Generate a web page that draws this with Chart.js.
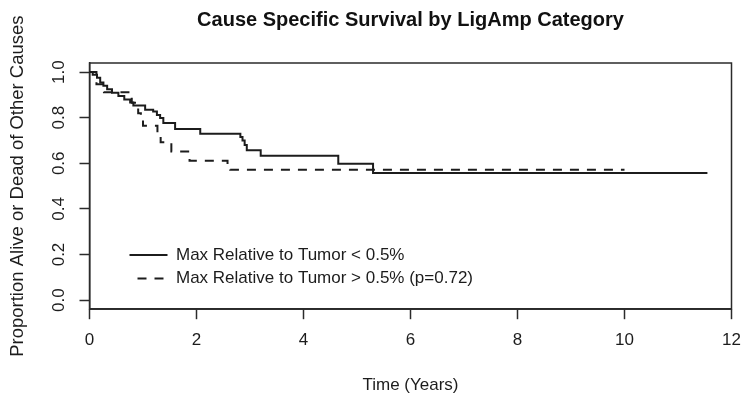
<!DOCTYPE html>
<html>
<head>
<meta charset="utf-8">
<title>Cause Specific Survival by LigAmp Category</title>
<script src="https://cdn.jsdelivr.net/npm/chart.js@4.4.0/dist/chart.umd.min.js"></script>
<style>
  html, body { margin: 0; padding: 0; background: #fff; }
</style>
</head>
<body>
<canvas id="km" width="742" height="406"></canvas>
<script>
// Kaplan-Meier steps (time in years, survival proportion)
const lowTimes = [0, 0.06, 0.14, 0.2, 0.26, 0.33, 0.42, 0.54, 0.65, 0.76, 0.82, 1.04, 1.19, 1.26, 1.32, 1.38, 1.6, 2.07, 2.82, 2.86, 2.9, 2.94, 3.2, 4.65, 5.3, 11.55];
const lowSurv  = [1.0, 0.988, 0.975, 0.955, 0.94, 0.925, 0.91, 0.895, 0.88, 0.867, 0.854, 0.835, 0.827, 0.812, 0.799, 0.777, 0.75, 0.73, 0.715, 0.70, 0.68, 0.657, 0.633, 0.598, 0.557, 0.557];

const highTimes = [0, 0.13, 0.27, 0.79, 0.85, 0.91, 0.96, 1.0, 1.27, 1.33, 1.53, 1.87, 2.58, 2.63, 10.0];
const highSurv  = [1.0, 0.947, 0.912, 0.866, 0.844, 0.82, 0.80, 0.765, 0.73, 0.692, 0.652, 0.611, 0.59, 0.572, 0.572];

const seriesLabels = ['Max Relative to Tumor < 0.5%', 'Max Relative to Tumor > 0.5% (p=0.72)'];
const xTicks = [0, 2, 4, 6, 8, 10, 12];
const yTicks = [0, 0.2, 0.4, 0.6, 0.8, 1.0];

const ink = '#1c1c1c';
const toPoints = (ts, ss) => ts.map((t, i) => ({ x: t, y: ss[i] }));

Chart.defaults.font.family = "'Liberation Sans', Arial, sans-serif";
Chart.defaults.font.size = 17;
Chart.defaults.color = ink;

// R-style closed box round the plotting region
const frameBox = {
  id: 'frameBox',
  beforeDatasetsDraw(chart) {
    const { ctx, chartArea: a } = chart;
    ctx.save();
    ctx.strokeStyle = '#2b2b2b';
    ctx.lineWidth = 1.5;
    ctx.strokeRect(a.left, a.top, a.right - a.left, a.bottom - a.top);
    ctx.restore();
  }
};

// put the in-plot legend where R's legend() left it
const legendSpot = {
  id: 'legendSpot',
  afterLayout(chart) {
    const lg = chart.legend;
    if (!lg) return;
    lg.left = 123;
    lg.top = 240;
    lg.right = chart.chartArea.right;
    lg.bottom = chart.chartArea.bottom;
  }
};

new Chart(document.getElementById('km'), {
  type: 'line',
  data: {
    datasets: [
      {
        label: seriesLabels[0],
        data: toPoints(lowTimes, lowSurv),
        borderColor: ink,
        backgroundColor: ink,
        borderWidth: 2,
        stepped: 'before',
        pointRadius: 0,
        fill: false,
      },
      {
        label: seriesLabels[1],
        data: toPoints(highTimes, highSurv),
        borderColor: ink,
        backgroundColor: ink,
        borderWidth: 2,
        borderDash: [9, 8],
        stepped: 'before',
        pointRadius: 0,
        fill: false,
      },
    ],
  },
  options: {
    responsive: false,
    animation: false,
    layout: { padding: { left: 0, right: 10.5, top: 0, bottom: 0 } },
    plugins: {
      title: {
        display: true,
        text: 'Cause Specific Survival by LigAmp Category',
        fullSize: false,
        color: '#111',
        font: { size: 20, weight: 'bold' },
        padding: { top: 8, bottom: 31 },
      },
      legend: {
        display: true,
        position: 'chartArea',
        align: 'start',
        labels: {
          usePointStyle: true,
          pointStyle: 'line',
          pointStyleWidth: 38,
          padding: 6.5,
          color: ink,
          font: { size: 17 },
          generateLabels: chart => {
            const items = Chart.defaults.plugins.legend.labels.generateLabels(chart);
            items.forEach((it, i) => {
              const ds = chart.data.datasets[i];
              it.lineDash = ds.borderDash || [];
              it.lineDashOffset = 9;
              it.lineWidth = ds.borderWidth;
              it.strokeStyle = ds.borderColor;
            });
            return items;
          },
        },
      },
      tooltip: { enabled: false },
    },
    scales: {
      x: {
        type: 'linear',
        min: 0,
        max: 12,
        afterBuildTicks: s => { s.ticks = xTicks.map(v => ({ value: v })); },
        afterFit: s => { s.height = 406 - 309.2; s.paddingLeft = 0; s.paddingRight = 0; },
        ticks: { autoSkip: false, maxRotation: 0, padding: 11, font: { size: 17 } },
        grid: { drawOnChartArea: false, tickLength: 10, tickWidth: 1.5, tickColor: '#2b2b2b' },
        border: { color: '#2b2b2b', width: 1.5 },
        title: { display: true, text: 'Time (Years)', font: { size: 17 }, padding: { top: 0, bottom: 10 } },
      },
      y: {
        type: 'linear',
        min: -0.04,
        max: 1.04,
        afterBuildTicks: s => { s.ticks = yTicks.map(v => ({ value: v })); },
        afterFit: s => { s.width = 89.5; s.paddingTop = 0; s.paddingBottom = 0; },
        ticks: {
          autoSkip: false,
          minRotation: 90,
          maxRotation: 90,
          crossAlign: 'center',
          padding: 8,
          font: { size: 17 },
          callback: v => Number(v).toFixed(1),
        },
        grid: { drawOnChartArea: false, tickLength: 10, tickWidth: 1.5, tickColor: '#2b2b2b' },
        border: { color: '#2b2b2b', width: 1.5 },
        title: {
          display: true,
          text: 'Proportion Alive or Dead of Other Causes',
          font: { size: 18.5 },
          padding: { top: 7, bottom: 0 },
        },
      },
    },
  },
  plugins: [frameBox, legendSpot],
});
</script>
</body>
</html>
